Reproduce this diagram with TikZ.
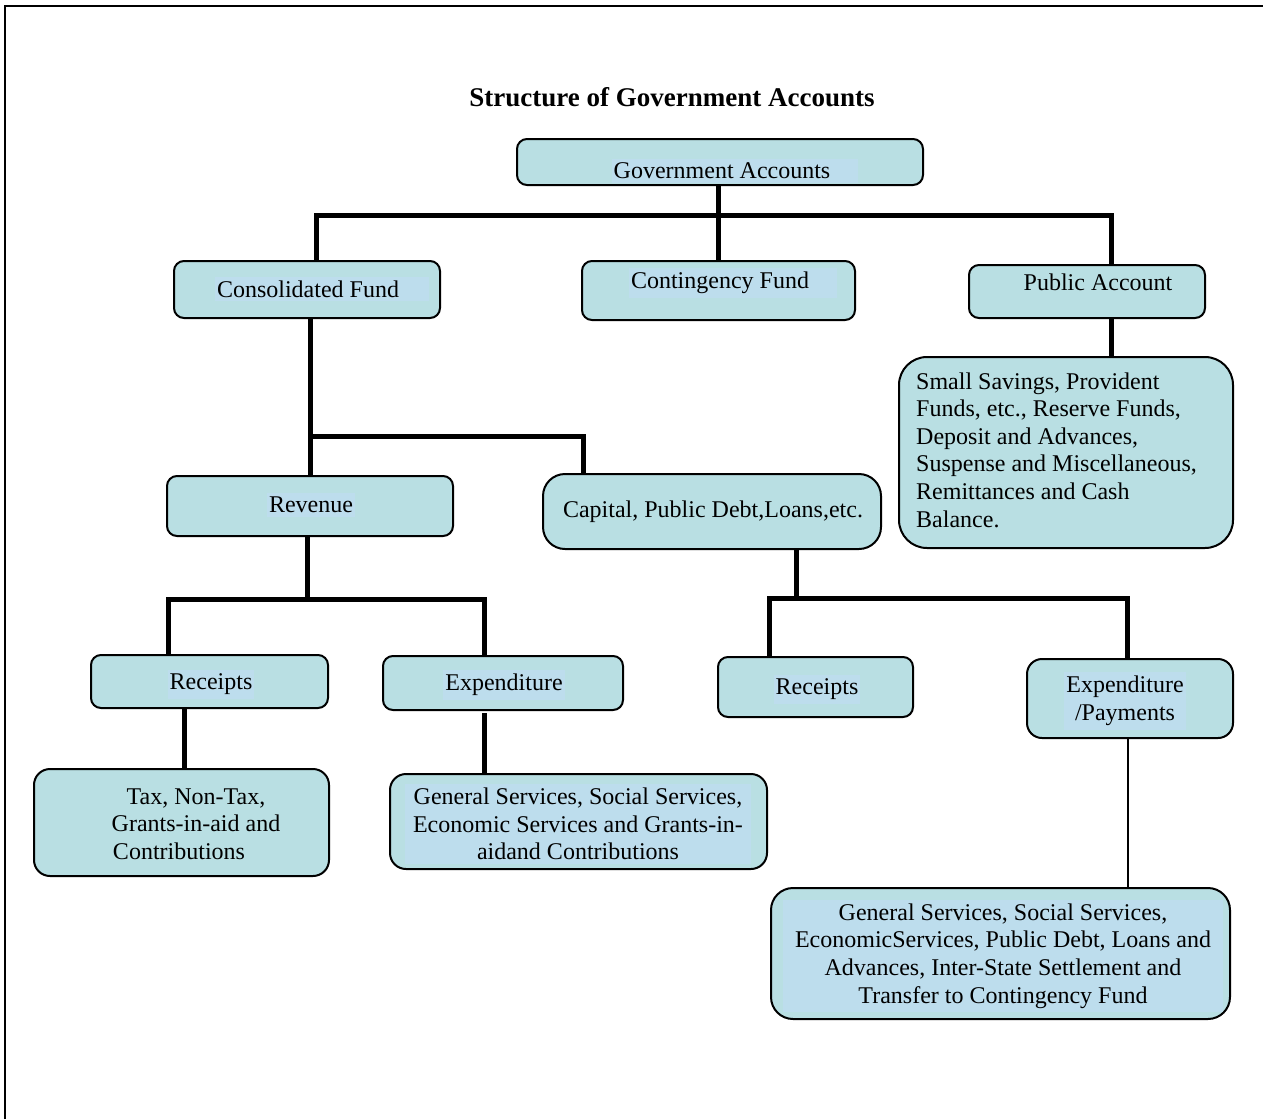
\documentclass[tikz,border=0pt]{standalone}
\usepackage{fontspec}
\setmainfont{Liberation Serif}
\usetikzlibrary{calc}
\definecolor{boxc}{RGB}{185,223,227}
\definecolor{hl}{RGB}{189,221,237}
\tikzset{
  box/.style={draw=black, line width=2pt, fill=boxc, rounded corners=10pt, inner sep=0pt, anchor=center},
  txt/.style={font=\fontsize{24}{27.6}\selectfont, inner sep=0pt, align=center},
  hltxt/.style={txt, fill=hl, inner xsep=2pt, inner ysep=4pt},
  conn/.style={draw=black, line width=5pt, line join=miter},
  thinconn/.style={draw=black, line width=2pt}
}
\begin{document}
\begin{tikzpicture}[x=1pt,y=-1pt]
\useasboundingbox (0,0) rectangle (1263,1119);
% frame
\draw[line width=2.5pt] (5,1119) -- (5,6) -- (1263,6);
% title
\node[font=\bfseries\fontsize{27}{31}\selectfont, inner sep=0pt] (title) at (672,97) {Structure of Government Accounts};
% boxes
\node[box, minimum width=406pt, minimum height=46pt] (ga) at (720,162) {};
\node[box, minimum width=266pt, minimum height=57pt] (cf) at (307,289.5) {};
\node[box, minimum width=273pt, minimum height=59pt] (cof) at (718.5,290.5) {};
\node[box, minimum width=236pt, minimum height=53pt] (pa) at (1087,291.5) {};
\node[box, minimum width=334pt, minimum height=191pt, rounded corners=28pt] (pad) at (1066,452.5) {};
\node[box, minimum width=286pt, minimum height=60pt] (rev) at (310,506) {};
\node[box, minimum width=338pt, minimum height=75pt, rounded corners=22pt] (cap) at (712,511.5) {};
\node[box, minimum width=237pt, minimum height=53pt] (rl) at (209.5,681.5) {};
\node[box, minimum width=240pt, minimum height=54pt] (el) at (503,683) {};
\node[box, minimum width=195pt, minimum height=60pt] (rr) at (815.5,687) {};
\node[box, minimum width=206pt, minimum height=79pt, rounded corners=15pt] (ep) at (1130,698.5) {};
\node[box, minimum width=295pt, minimum height=107pt, rounded corners=16pt] (tx) at (181.5,822.5) {};
\node[box, minimum width=377pt, minimum height=95pt, rounded corners=16pt] (gsl) at (578.5,821.5) {};
\node[box, minimum width=459pt, minimum height=131pt, rounded corners=22pt] (gsr) at (1000.5,953.5) {};
% texts
\node[hltxt] (ga-t) at (735,171) {Government Accounts\hspace{26pt}};
\node[hltxt] (cf-t) at (322,289) {Consolidated Fund\hspace{28pt}};
\node[hltxt] (cof-t) at (733,283) {Contingency Fund\hspace{26pt}};
\node[txt] (pa-t) at (1098,282) {Public Account};
\node[txt, align=left, anchor=west] (pad-t) at (916,450) {Small Savings, Provident\\Funds, etc., Reserve Funds,\\Deposit and Advances,\\Suspense and Miscellaneous,\\Remittances and Cash\\Balance.};
\node[hltxt] (rev-t) at (311,505) {Revenue};
\node[txt] (cap-t) at (713,512) {Capital, Public Debt,Loans,etc.};
\node[hltxt] (rl-t) at (211,684) {Receipts};
\node[hltxt] (el-t) at (504,685) {Expenditure};
\node[hltxt] (rr-t) at (817,689) {Receipts};
\node[hltxt] (ep-t) at (1125,701) {Expenditure\\/Payments};
\node[txt] (tx-t) at (196,824) {Tax, Non-Tax,\\Grants-in-aid and\\Contributions\hspace*{34pt}};
\node[hltxt, inner xsep=8pt] (gsl-t) at (578,824) {General Services, Social Services,\\Economic Services and Grants-in-\\aidand Contributions};
\node[hltxt, inner xsep=12pt] (gsr-t) at (1003,956) {General Services, Social Services,\\EconomicServices, Public Debt, Loans and\\Advances, Inter-State Settlement and\\Transfer to Contingency Fund};
% connectors
\draw[conn] ($(ga.south)+(-2,0)$) -- ++(0,29) coordinate (b1);
\draw[conn] ($(cf.north)+(9,0)$) |- (b1) -| ($(pa.north)+(24,0)$);
\draw[conn] (b1) -- (b1 |- cof.north);
\draw[conn] ($(cf.south)+(3,0)$) -- (rev.north);
\coordinate (b2) at ($(rev.north)+(0,-39)$);
\draw[conn] (b2) -| ($(cap.north)+(-129,0)$);
\draw[conn] ($(rev.south)+(-3,0)$) -- ++(0,62) coordinate (b3);
\draw[conn] ($(rl.north)+(-41.5,0)$) |- (b3) -| ($(el.north)+(-19,0)$);
\draw[conn] ($(cap.south)+(84,0)$) -- ++(0,48) coordinate (b4);
\draw[conn] ($(rr.north)+(-46.5,0)$) |- (b4) -| ($(ep.north)+(-3,0)$);
\draw[conn] ($(rl.south)+(-25.5,0)$) -- ($(tx.north)+(2.5,0)$);
\draw[conn] ($(el.south)+(-19,2)$) -- ($(gsl.north)+(-94.5,0)$);
\draw[conn] ($(pa.south)+(24,0)$) -- ($(pad.north)+(45,0)$);
\draw[thinconn] ($(ep.south)+(-2,0)$) -- ($(gsr.north)+(127.5,0)$);
\end{tikzpicture}
\end{document}
